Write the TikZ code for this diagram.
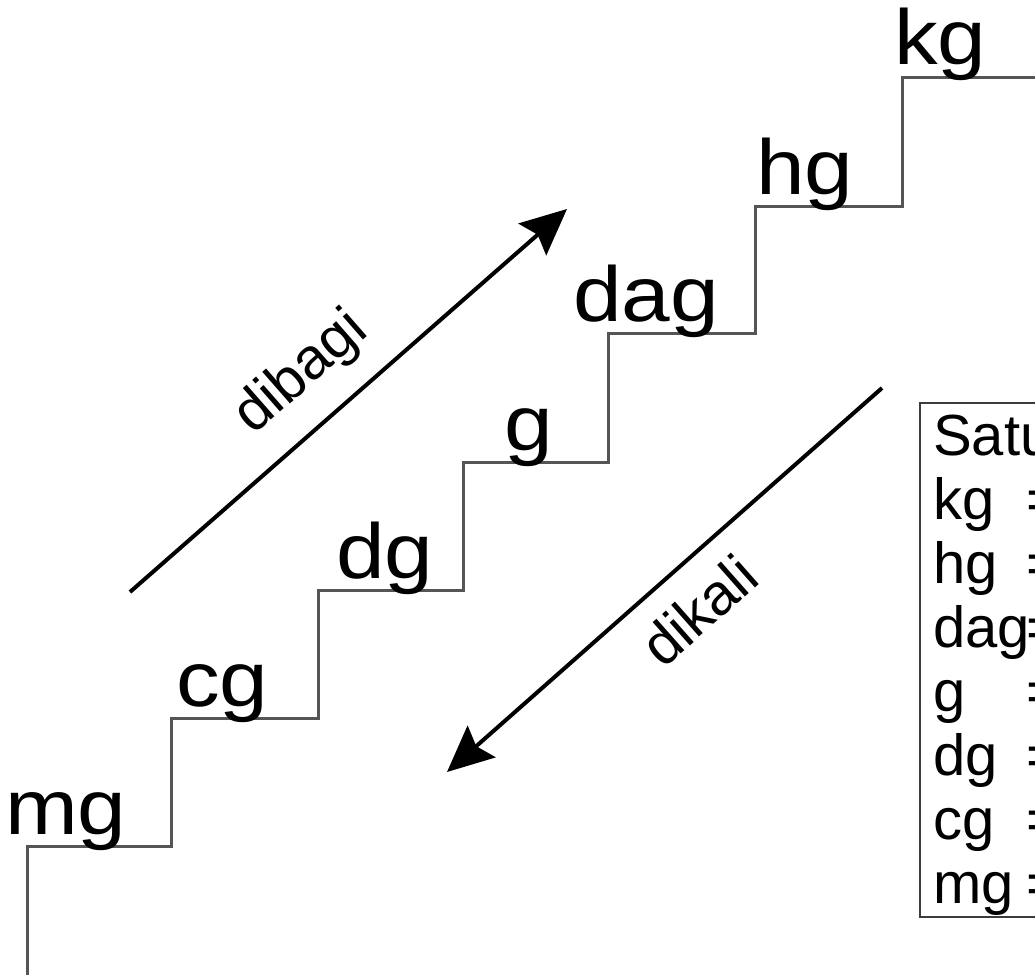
\documentclass[tikz,border=0pt]{standalone}
\usepackage{fontspec}
\setmainfont{Liberation Sans}
\usepackage{tikz}
\usetikzlibrary{arrows.meta}

\definecolor{stairgray}{RGB}{85,85,85}
\definecolor{boxgray}{RGB}{60,60,60}

\newcommand{\besar}{\fontsize{78}{90}\selectfont}
\newcommand{\kecil}{\fontsize{58}{66}\selectfont}

\begin{document}
\begin{tikzpicture}[x=1pt, y=-1pt,
    tangga/.style={draw=stairgray, line width=3pt, line join=miter},
    namatangga/.style={anchor=base west, inner sep=0pt, font=\besar},
    satuan/.style={anchor=base west, inner sep=0pt, font=\kecil},
    panah/.style={draw=black, line width=4pt, -{Stealth[length=46pt, width=42pt, inset=7pt]}}]

    \useasboundingbox (0,0) rectangle (1035,974);
    \clip (0,0) rectangle (1035,974);

    % anak tangga
    \draw [tangga] (27,980) -- (27,846) -- (171,846) -- (171,718) -- (318,718)
        -- (318,590) -- (463,590) -- (463,462) -- (608,462) -- (608,333)
        -- (755,333) -- (755,206) -- (902,206) -- (902,77) -- (1040,77);

    \node (mg)  [namatangga] at (5,834)   {\scalebox{1.12}[1]{mg}};
    \node (cg)  [namatangga] at (176,706) {\scalebox{1.12}[1]{cg}};
    \node (dg)  [namatangga] at (336,578) {\scalebox{1.12}[1]{dg}};
    \node (g)   [namatangga] at (504,450) {\scalebox{1.12}[1]{g}};
    \node (dag) [namatangga] at (573,321) {\scalebox{1.12}[1]{dag}};
    \node (hg)  [namatangga] at (756,194) {\scalebox{1.12}[1]{hg}};
    \node (kg)  [namatangga] at (894,64)  {\scalebox{1.12}[1]{kg}};

    % panah naik dan turun
    \coordinate (bagiA) at (130,592);
    \coordinate (bagiB) at (567,209);
    \coordinate (kaliA) at (882,388);
    \coordinate (kaliB) at (447,772);

    \draw [panah] (bagiA) -- node (dibagi) [pos=0.47, sloped, above=22pt, inner sep=0pt, font=\kecil] {dibagi} (bagiB);
    \draw [panah] (kaliA) -- node (dikali) [pos=0.49, sloped, below=22pt, inner sep=0pt, font=\kecil] {dikali} (kaliB);

    % kotak satuan
    \draw [draw=boxgray, line width=2.5pt] (920,403) rectangle (1050,917);
    \foreach \nm [count=\i from 0] in {Satu, kg, hg, dag, g, dg, cg, mg}
        \node (baris\i) [satuan] at (933,{455+64*\i}) {\nm};
    \foreach \i in {1,...,7}
        \node (sama\i) [satuan] at (1026,{455+64*\i}) {=};
\end{tikzpicture}
\end{document}
